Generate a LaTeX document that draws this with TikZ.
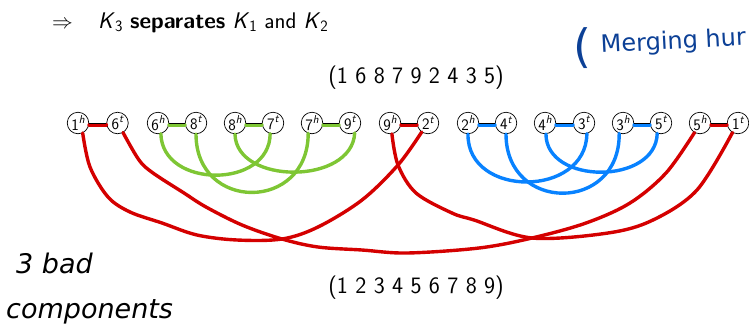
\documentclass[tikz,border=0pt]{standalone}
\usepackage{fontspec}
\newfontfamily\handfont{DejaVu Sans}
\definecolor{myred}{RGB}{212,0,0}
\definecolor{mygreen}{RGB}{126,198,52}
\definecolor{myblue}{RGB}{8,130,255}
\definecolor{inkblue}{RGB}{12,64,150}
\newcommand\genelab[2]{#1\raisebox{6.5pt}{\fontsize{11.5}{11.5}\selectfont\itshape #2}}
\begin{document}
\begin{tikzpicture}[x=1pt,y=-1pt,
  gene/.style={circle,draw=black,fill=white,line width=0.7pt,minimum size=21.5pt,inner sep=0pt,
    font=\sffamily\fontsize{16}{16}\selectfont},
  adj/.style={line width=0.8pt,black},
  pairline/.style={line width=3.4pt,line cap=round},
  arc/.style={line width=3.4pt,line cap=round,line join=round},
  redarc/.style={arc,draw=myred},
  greenarc/.style={arc,draw=mygreen},
  bluearc/.style={arc,draw=myblue},
  perm/.style={font=\sffamily\fontsize{23.5}{25}\selectfont},
  hand/.style={font=\handfont\itshape\fontsize{27}{28}\selectfont}
]
\useasboundingbox (0,0) rectangle (749,325);

% texts
\node[anchor=base west,inner sep=0pt,font=\fontsize{21}{22}\selectfont] (arr) at (52,28) {$\Rightarrow$};
\node[anchor=base west,inner sep=0pt,font=\sffamily\fontsize{22.6}{24}\selectfont] (claim) at (98,28)
  {\textit{K}\textsubscript{3} \textbf{separates} \textit{K}\textsubscript{1} and \textit{K}\textsubscript{2}};
\node[perm,anchor=base east,inner sep=0pt] (ptop) at (504,83) {(1 6 8 7 9 2 4 3 5)};
\node[perm,anchor=base east,inner sep=0pt] (pbot) at (504,293) {(1 2 3 4 5 6 7 8 9)};
\node[hand,anchor=base west,inner sep=0pt] (bad) at (16,273) {3 bad};
\node[hand,anchor=base west,inner sep=0pt] (comp) at (6,318) {components};
\node[anchor=base west,inner sep=0pt,text=inkblue,font=\handfont\fontsize{46}{46}\selectfont] (paren) at (573,62) {(};
\node[anchor=base west,inner sep=0pt,text=inkblue,font=\handfont\fontsize{24}{26}\selectfont,rotate=3] (merg) at (601,53) {Merging hur};

% genes
\node[gene] (h1) at (78,123) {\genelab{1}{h}};
\node[gene] (t6) at (117.5,123) {\genelab{6}{t}};
\node[gene] (h6) at (158,123) {\genelab{6}{h}};
\node[gene] (t8) at (196,123) {\genelab{8}{t}};
\node[gene] (h8) at (235,123) {\genelab{8}{h}};
\node[gene] (t7) at (273,123) {\genelab{7}{t}};
\node[gene] (h7) at (312,123) {\genelab{7}{h}};
\node[gene] (t9) at (350,123) {\genelab{9}{t}};
\node[gene] (h9) at (390,123) {\genelab{9}{h}};
\node[gene] (t2) at (428,123) {\genelab{2}{t}};
\node[gene] (h2) at (468,123) {\genelab{2}{h}};
\node[gene] (t4) at (506,123) {\genelab{4}{t}};
\node[gene] (h4) at (545,123) {\genelab{4}{h}};
\node[gene] (t3) at (584,123) {\genelab{3}{t}};
\node[gene] (h3) at (623,123) {\genelab{3}{h}};
\node[gene] (t5) at (661,123) {\genelab{5}{t}};
\node[gene] (h5) at (700,123) {\genelab{5}{h}};
\node[gene] (t1) at (738,123) {\genelab{1}{t}};

% adjacencies of (1 6 8 7 9 2 4 3 5)
\foreach \a/\b/\c in {h1/t6/myred,h6/t8/mygreen,h8/t7/mygreen,h7/t9/mygreen,h9/t2/myred,
                      h2/t4/myblue,h4/t3/myblue,h3/t5/myblue,h5/t1/myred}{
  \draw[pairline,draw=\c] ([yshift=-2pt]\a.east) -- ([yshift=-2pt]\b.west);
  \draw[adj] (\a.east) -- (\b.west);
}

% green component
\draw[greenarc] (h6.-75) .. controls (162,189) and (270,189) .. (t7.-105);
\draw[greenarc] (h7.-110) .. controls (308,212) and (196,212) .. (t8.-90);
\draw[greenarc] (h8.-90) .. controls (236,185) and (352,185) .. (t9.-65);

% blue component
\draw[bluearc] (h2.-90) .. controls (467,198) and (586,198) .. (t3.-75);
\draw[bluearc] (h3.-110) .. controls (620,213) and (506,213) .. (t4.-90);
\draw[bluearc] (h4.-85) .. controls (546,185) and (656,185) .. (t5.-110);

% red component
\draw[redarc] plot[smooth,tension=0.55] coordinates {(h1.-65) (90,167) (108,197) (130,212) (162,223) (197,235) (237,240) (282,239) (318,227) (362,200) (398,165) (t2.-125)};
\draw[redarc] plot[smooth,tension=0.55] coordinates {(t6.-60) (139,160) (153,173) (184,193) (206,207) (242,225) (282,239) (318,247) (362,250) (407,253) (479,248) (532,238) (586,223) (630,203) (666,173) (h5.-120)};
\draw[redarc] plot[smooth,tension=0.55] coordinates {(h9.-80) (398,165) (416,193) (452,213) (474,220) (532,238) (608,233) (653,220) (697,190) (t1.-120)};
\end{tikzpicture}
\end{document}
